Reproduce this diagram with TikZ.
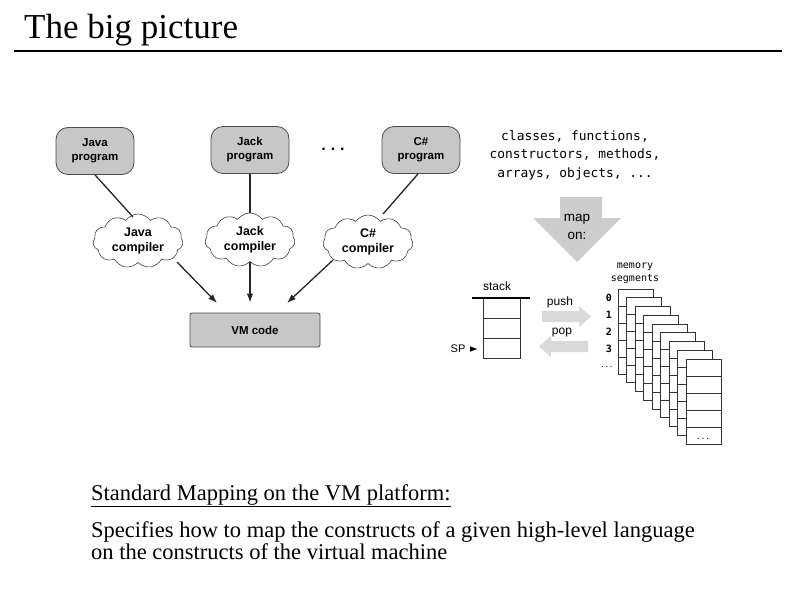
\documentclass[tikz,border=0pt]{standalone}
\usepackage{fontspec}
\setmainfont{Liberation Serif}
\newfontfamily\arialf{Liberation Sans}
\newfontfamily\monof{DejaVu Sans Mono}
\usetikzlibrary{shapes.symbols,arrows.meta,calc}
\begin{document}
\begin{tikzpicture}[x=1pt,y=-1pt,
  prog/.style={draw=black!70, fill=black!22, rounded corners=12pt, minimum width=78pt, minimum height=47pt, align=center, inner sep=0pt, line width=0.8pt, font=\arialf\bfseries\fontsize{11.5}{14}\selectfont},
  comp/.style={cloud, cloud puffs=11, cloud puff arc=110, aspect=1.7, draw=black!75, fill=white, minimum width=90pt, minimum height=54pt, align=center, inner sep=0pt, line width=0.6pt, font=\arialf\bfseries\fontsize{12.5}{15.5}\selectfont},
  conn/.style={line width=1.3pt, draw=black!85},
  arr/.style={conn, -{Latex[length=9pt,width=6.5pt]}},
  sans/.style={font=\arialf\fontsize{12}{14}\selectfont},
  segbox/.style={draw=black!80, fill=white, line width=0.7pt},
  flatarrow/.style={fill=black!15},
  serif/.style={anchor=base west, inner sep=0pt, font=\fontsize{22.5}{24}\selectfont}
]
\useasboundingbox (0,0) rectangle (797,589);
\fill[white] (0,0) rectangle (797,589);

% title
\node[anchor=base west, inner sep=0pt, font=\fontsize{35}{40}\selectfont] (title) at (24,38) {The big picture};
\coordinate (tl) at (14,51);
\coordinate (tr) at (782,51);
\draw[line width=2pt] (tl) -- (tr);

% programs
\node[prog] (jp) at (95,151) {Java\\program};
\node[prog] (kp) at (250,150) {Jack\\program};
\node[prog] (cp) at (421,150) {C\#\\program};
\node[anchor=base, inner sep=0pt, font=\arialf\bfseries\fontsize{16}{16}\selectfont] (dots) at (333,150) {.\hspace{5pt}.\hspace{5pt}.};

% compilers
\node[comp] (jc) at (138,241) {Java\\compiler};
\node[comp] (kc) at (250,240) {Jack\\compiler};
\node[comp] (cc) at (368,242) {C\#\\compiler};

% VM code
\node[draw=black!70, fill=black!22, rounded corners=2pt, minimum width=130pt, minimum height=34pt, line width=0.8pt, font=\arialf\bfseries\fontsize{11.5}{13}\selectfont] (vm) at (255,330) {VM code};

\draw[conn] (jp.south) -- ($(jc.center)+(-5,-24)$);
\draw[conn] (kp.south) -- (kc.north);
\draw[conn] ($(cp.south)+(-3,0)$) -- ($(cc.center)+(15,-28)$);
\draw[arr] ($(jc.center)+(39,21)$) -- ($(vm.center)+(-38,-27)$);
\draw[arr] (kc.south) -- ($(kc.south |- vm.north)+(0,-10)$);
\draw[arr] ($(cc.center)+(-35,18)$) -- ($(vm.center)+(32,-27)$);

% constructs text
\node[align=center, inner sep=0pt, text=black, font=\monof\fontsize{12.9}{18.5}\selectfont] (constructs) at (575,155) {classes, functions,\\constructors, methods,\\arrays, objects, ...};

% big map arrow
\path[flatarrow, fill=black!20] (560,197) -- (602,197) -- (602,218) -- (621,218) -- (577,262) -- (533,218) -- (560,218) -- cycle;
\node[sans, font=\arialf\fontsize{13.5}{18}\selectfont, align=center, inner sep=0pt] (maptxt) at (577,227) {map\\on:};

% stack
\node[sans, inner sep=0pt] (stacklbl) at (497,286) {stack};
\draw[draw=black!80, line width=0.8pt] (483,298) rectangle (520,358);
\draw[draw=black!80, line width=0.8pt] (483,318) -- (520,318) (483,338) -- (520,338);
\draw[line width=2.5pt] (472,298) -- (530,298);
\node[sans, font=\arialf\fontsize{11}{13}\selectfont, inner sep=0pt] (sp) at (458,349) {SP};
\fill (470,346.3) -- (477,349) -- (470,351.7) -- cycle;

% push / pop
\path[flatarrow] (542,311) -- (579,311) -- (579,306) -- (591,316.5) -- (579,327) -- (579,322) -- (542,322) -- cycle;
\node[sans, inner sep=0pt] (push) at (560,302) {push};
\path[flatarrow] (588,341) -- (551,341) -- (551,336) -- (539,346.5) -- (551,357) -- (551,352) -- (588,352) -- cycle;
\node[sans, inner sep=0pt] (pop) at (562,333) {pop};

% memory segments
\node[inner sep=0pt, font=\monof\fontsize{10}{12}\selectfont] (memlbl) at (635,267) {memory};
\node[inner sep=0pt, font=\monof\fontsize{10}{12}\selectfont] (seglbl) at (635,279) {segments};
\foreach \n/\yy in {0/298,1/315,2/332,3/349}
  \node[inner sep=0pt, font=\monof\bfseries\fontsize{10}{12}\selectfont] (idx\n) at (609,\yy) {\n};
\node[anchor=base, inner sep=0pt, font=\monof\fontsize{7}{12}\selectfont] (idxdots) at (607,367) {...};
\foreach \i in {0,...,8} {
  \pgfmathsetmacro\xx{618+8.5*\i}
  \pgfmathsetmacro\yy{289+8.75*\i}
  \draw[segbox] (\xx,\yy) rectangle ++(35,85);
  \foreach \r in {1,...,4}
    \draw[draw=black!80, line width=0.7pt] (\xx,\yy+17*\r) -- ++(35,0);
}
\node[anchor=base, inner sep=0pt, font=\monof\fontsize{8}{12}\selectfont] (lastdots) at (703,439) {...};

% bottom text
\node[serif] (std) at (91,500) {\underline{Standard Mapping on the VM platform:}};
\node[serif] (spec1) at (91,537) {Specifies how to map the constructs of a given high-level language};
\node[serif] (spec2) at (91,559) {on the constructs of the virtual machine};
\end{tikzpicture}
\end{document}
